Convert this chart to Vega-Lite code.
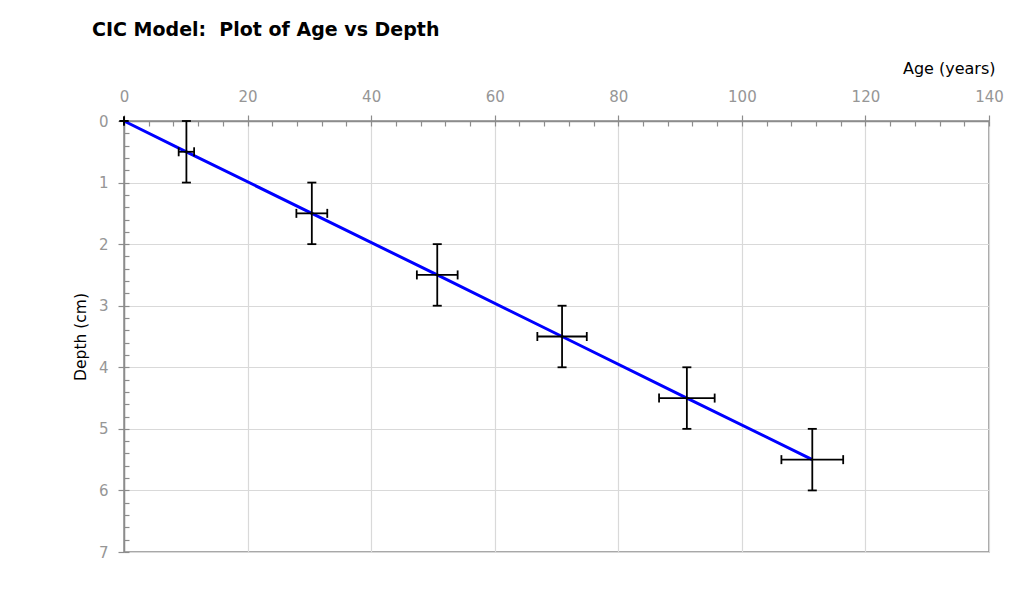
{
  "$schema": "https://vega.github.io/schema/vega-lite/v6.json",
  "autosize": "none",
  "width": 865,
  "height": 431,
  "padding": {"left": 124, "top": 121, "right": 45, "bottom": 37},
  "background": "white",
  "title": {
    "text": "CIC Model: \u00a0Plot of Age vs Depth",
    "anchor": "start",
    "frame": "group",
    "fontSize": 19,
    "fontWeight": "bold",
    "font": "DejaVu Sans",
    "color": "black",
    "dx": -32,
    "offset": 20
  },
  "config": {
    "view": {"stroke": "#8c8c8c", "strokeWidth": 1.5},
    "font": "DejaVu Sans"
  },
  "data": {
    "values": [
      {"age": 0, "depth": 0, "age_lo": 0, "age_hi": 0, "depth_lo": 0, "depth_hi": 0},
      {"age": 10.1, "depth": 0.5, "age_lo": 8.85, "age_hi": 11.35, "depth_lo": 0, "depth_hi": 1},
      {"age": 30.4, "depth": 1.5, "age_lo": 27.9, "age_hi": 32.9, "depth_lo": 1, "depth_hi": 2},
      {"age": 50.7, "depth": 2.5, "age_lo": 47.4, "age_hi": 54.0, "depth_lo": 2, "depth_hi": 3},
      {"age": 70.9, "depth": 3.5, "age_lo": 66.9, "age_hi": 74.9, "depth_lo": 3, "depth_hi": 4},
      {"age": 91.1, "depth": 4.5, "age_lo": 86.6, "age_hi": 95.6, "depth_lo": 4, "depth_hi": 5},
      {"age": 111.4, "depth": 5.5, "age_lo": 106.4, "age_hi": 116.4, "depth_lo": 5, "depth_hi": 6}
    ]
  },
  "resolve": {"axis": {"x": "independent", "y": "independent"}},
  "layer": [
    {
      "mark": {"type": "line", "color": "#0000ff", "strokeWidth": 3},
      "encoding": {
        "x": {
          "field": "age", "type": "quantitative",
          "scale": {"domain": [0, 140], "nice": false, "zero": false},
          "axis": {
            "orient": "top",
            "values": [0, 20, 40, 60, 80, 100, 120, 140],
            "tickSize": 6, "tickColor": "#8c8c8c", "tickWidth": 1.2,
            "labelFontSize": 15, "labelColor": "#969696", "labelPadding": 11, "labelFont": "DejaVu Sans", "labelFlush": false,
            "domainColor": "#8c8c8c", "domainWidth": 1.5,
            "grid": true, "gridColor": "#d9d9d9", "gridWidth": 1.2,
            "title": "Age (years)", "titleX": 871, "titleY": -53, "titleAlign": "right", "titleBaseline": "middle",
            "titleFontSize": 16, "titleFontWeight": "normal", "titleColor": "black", "titleFont": "DejaVu Sans"
          }
        },
        "y": {
          "field": "depth", "type": "quantitative",
          "scale": {"domain": [0, 7], "reverse": true, "nice": false, "zero": false},
          "axis": {
            "orient": "left",
            "values": [0, 1, 2, 3, 4, 5, 6, 7],
            "tickSize": 6, "tickColor": "#8c8c8c", "tickWidth": 1.2,
            "labelFontSize": 15, "labelColor": "#969696", "labelPadding": 10, "labelFont": "DejaVu Sans", "labelFlush": false,
            "domainColor": "#8c8c8c", "domainWidth": 1.5,
            "grid": true, "gridColor": "#d9d9d9", "gridWidth": 1.2,
            "title": "Depth (cm)", "titleX": -44, "titleY": 215.5, "titleAngle": -90, "titleAlign": "center", "titleBaseline": "middle",
            "titleFontSize": 15.5, "titleFontWeight": "normal", "titleColor": "black", "titleFont": "DejaVu Sans"
          }
        }
      }
    },
    {
      "mark": {"type": "rule", "color": "black", "strokeWidth": 1.8},
      "encoding": {
        "x": {
          "field": "age", "type": "quantitative",
          "axis": {
            "orient": "top",
            "values": [0, 4, 8, 12, 16, 20, 24, 28, 32, 36, 40, 44, 48, 52, 56, 60, 64, 68, 72, 76, 80, 84, 88, 92, 96, 100, 104, 108, 112, 116, 120, 124, 128, 132, 136, 140],
            "tickSize": -5, "tickColor": "#8c8c8c", "tickWidth": 1.2,
            "labels": false, "domain": false, "grid": false, "title": null
          }
        },
        "y": {
          "field": "depth_lo", "type": "quantitative",
          "axis": {
            "orient": "left",
            "values": [0, 0.2, 0.4, 0.6, 0.8, 1, 1.2, 1.4, 1.6, 1.8, 2, 2.2, 2.4, 2.6, 2.8, 3, 3.2, 3.4, 3.6, 3.8, 4, 4.2, 4.4, 4.6, 4.8, 5, 5.2, 5.4, 5.6, 5.8, 6, 6.2, 6.4, 6.6, 6.8, 7],
            "tickSize": -5, "tickColor": "#8c8c8c", "tickWidth": 1.2,
            "labels": false, "domain": false, "grid": false, "title": null
          }
        },
        "y2": {"field": "depth_hi"}
      }
    },
    {
      "mark": {"type": "rule", "color": "black", "strokeWidth": 1.8},
      "encoding": {
        "x": {"field": "age_lo", "type": "quantitative", "axis": null},
        "x2": {"field": "age_hi"},
        "y": {"field": "depth", "type": "quantitative", "axis": null}
      }
    },
    {
      "mark": {"type": "tick", "orient": "horizontal", "size": 9, "thickness": 1.8, "color": "black", "opacity": 1},
      "encoding": {
        "x": {"field": "age", "type": "quantitative", "axis": null},
        "y": {"field": "depth_lo", "type": "quantitative", "axis": null}
      }
    },
    {
      "mark": {"type": "tick", "orient": "horizontal", "size": 9, "thickness": 1.8, "color": "black", "opacity": 1},
      "encoding": {
        "x": {"field": "age", "type": "quantitative", "axis": null},
        "y": {"field": "depth_hi", "type": "quantitative", "axis": null}
      }
    },
    {
      "mark": {"type": "tick", "orient": "vertical", "size": 9, "thickness": 1.8, "color": "black", "opacity": 1},
      "encoding": {
        "x": {"field": "age_lo", "type": "quantitative", "axis": null},
        "y": {"field": "depth", "type": "quantitative", "axis": null}
      }
    },
    {
      "mark": {"type": "tick", "orient": "vertical", "size": 9, "thickness": 1.8, "color": "black", "opacity": 1},
      "encoding": {
        "x": {"field": "age_hi", "type": "quantitative", "axis": null},
        "y": {"field": "depth", "type": "quantitative", "axis": null}
      }
    }
  ]
}
